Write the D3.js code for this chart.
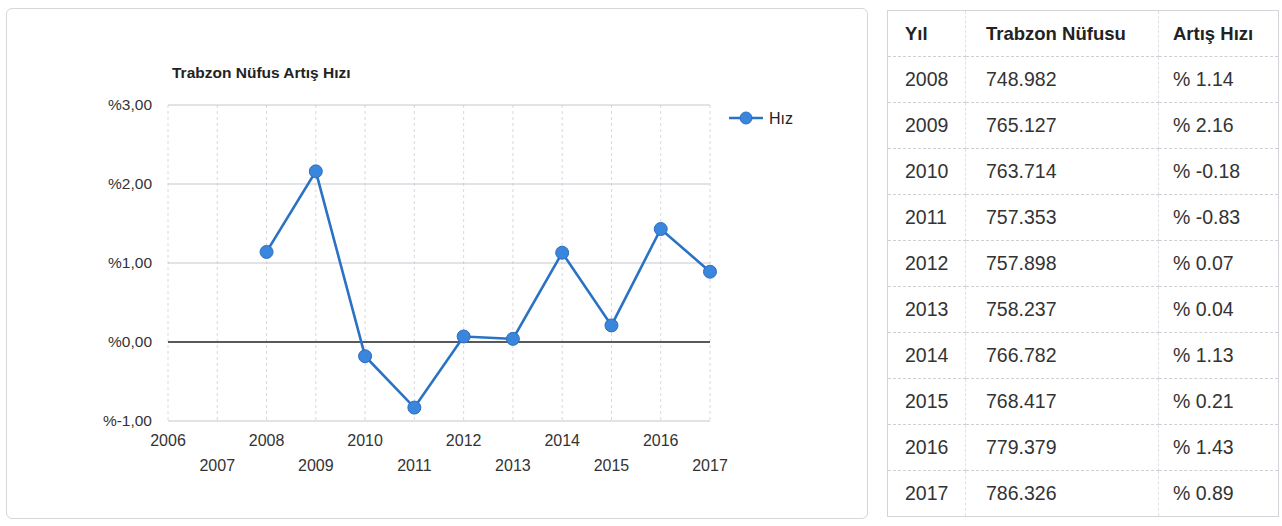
<!DOCTYPE html>
<html>
<head>
<meta charset="utf-8">
<script src="https://cdn.jsdelivr.net/npm/d3@7"></script>
<style>
body { margin:0; background:#fff; font-family:"Liberation Sans", Arial, sans-serif; }
#app { position:relative; width:1282px; height:526px; overflow:hidden; }
.panel { position:absolute; left:6px; top:8px; width:862px; height:511px; border:1px solid #d6d6dc; border-radius:6px; box-sizing:border-box; }
svg { position:absolute; left:0; top:0; }
table { position:absolute; left:887px; top:10px; width:391px; border-collapse:collapse; table-layout:fixed; border:1px solid #d4d4da; color:#333; }
td, th { box-sizing:border-box; height:46px; padding:0; font-size:19.5px; text-align:left; border-bottom:1px dashed #cfcfd6; border-right:1px dashed #e0e0e6; vertical-align:middle; white-space:nowrap; }
th { font-weight:bold; font-size:18.5px; color:#222; height:46px; }
.c0 { width:78px; padding-left:17px; }
.c1 { width:193px; padding-left:20px; }
.c2 { width:120px; padding-left:14px; }
</style>
</head>
<body>
<div id="app"><div class="panel"></div></div>
<script>
const years = [2008, 2009, 2010, 2011, 2012, 2013, 2014, 2015, 2016, 2017]
const population = [748982, 765127, 763714, 757353, 757898, 758237, 766782, 768417, 779379, 786326]
const rates = [1.14, 2.16, -0.18, -0.83, 0.07, 0.04, 1.13, 0.21, 1.43, 0.89]
const xTicks = [2006, 2007, 2008, 2009, 2010, 2011, 2012, 2013, 2014, 2015, 2016, 2017]
const yTicks = [-1, 0, 1, 2, 3]
const headers = ['Yıl', 'Trabzon Nüfusu', 'Artış Hızı']

const data = years.map((y,i)=>({year:y, pop:population[i], rate:rates[i]}))
const tr = d3.formatLocale({decimal:',', thousands:'.', grouping:[3], currency:['',''], minus:'-'})
const popFmt = tr.format(',d')
const yFmt = d=> '%' + tr.format('.2f')(d)

const app = d3.select('#app')
const svg = app.append('svg').attr('width', 880).attr('height', 526)

const xScale = d3.scaleLinear().domain([2006, 2017]).range([168, 710])
const yScale = d3.scaleLinear().domain([-1, 3]).range([421, 105])
const blue = '#3a86dc'
const lineBlue = '#2a72c4'

// grid
svg.append('g').selectAll('line').data(xTicks).enter().append('line')
    .attr('x1', d=>xScale(d)).attr('x2', d=>xScale(d))
    .attr('y1', yScale(3)).attr('y2', yScale(-1))
    .attr('stroke', '#d8d8de').attr('stroke-dasharray', '3,3')
svg.append('g').selectAll('line').data(yTicks).enter().append('line')
    .attr('x1', xScale(2006)).attr('x2', xScale(2017))
    .attr('y1', d=>yScale(d)).attr('y2', d=>yScale(d))
    .attr('stroke', d=> d==0 ? '#222' : '#c6c6d4')
    .attr('stroke-width', d=> d==0 ? 1.6 : 1.2)

// y labels
svg.append('g').selectAll('text').data(yTicks).enter().append('text')
    .attr('x', 152).attr('y', d=>yScale(d)+5)
    .attr('text-anchor', 'end').attr('font-size', 15.5).attr('fill', '#333')
    .text(yFmt)

// x labels, staggered
svg.append('g').selectAll('text').data(xTicks).enter().append('text')
    .attr('x', d=>xScale(d)).attr('y', d=> d%2==0 ? 446 : 471)
    .attr('text-anchor', 'middle').attr('font-size', 16).attr('fill', '#333')
    .text(d=>d)

svg.append('text').text('Trabzon Nüfus Artış Hızı')
    .attr('x', 172).attr('y', 78).attr('font-size', 15.5).attr('font-weight', 'bold').attr('fill', '#222')

const line = d3.line().x(d=>xScale(d.year)).y(d=>yScale(d.rate))
svg.append('path').datum(data)
    .attr('fill', 'none').attr('stroke', lineBlue).attr('stroke-width', 2.6)
    .attr('d', line)
svg.selectAll('circle.pt').data(data).enter().append('circle')
    .attr('class', 'pt')
    .attr('cx', d=>xScale(d.year)).attr('cy', d=>yScale(d.rate)).attr('r', 6.5)
    .attr('fill', blue).attr('stroke', '#2d6fbf').attr('stroke-width', 1)

// legend
const lg = svg.append('g').attr('transform', 'translate(729,118)')
lg.append('line').attr('x1', 0).attr('x2', 34).attr('stroke', lineBlue).attr('stroke-width', 2.6)
lg.append('circle').attr('cx', 17).attr('r', 6).attr('fill', blue).attr('stroke', '#2d6fbf')
lg.append('text').attr('x', 40).attr('y', 6).attr('font-size', 16).attr('fill', '#222').text('Hız')

// table
const table = app.append('table')
table.append('tr').selectAll('th').data(headers).enter().append('th')
    .attr('class', (d,i)=>'c'+i).text(d=>d)
table.selectAll('tr.row').data(data).enter().append('tr').attr('class', 'row')
    .selectAll('td').data(d=>[d.year, popFmt(d.pop), '% ' + d.rate.toFixed(2)])
    .enter().append('td').attr('class', (d,i)=>'c'+i).text(d=>d)
</script>
</body>
</html>
